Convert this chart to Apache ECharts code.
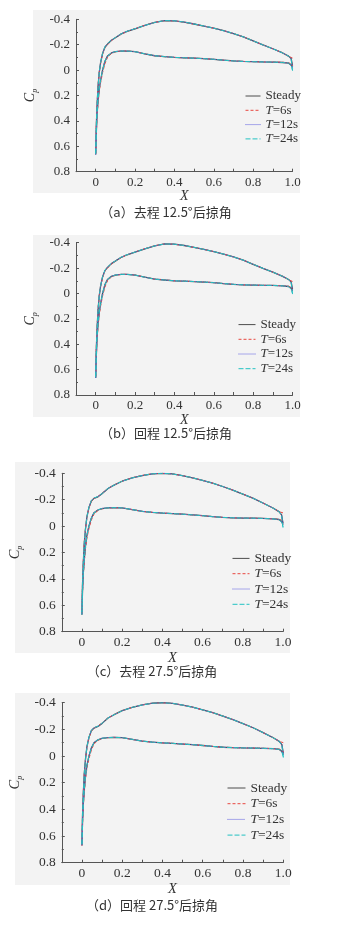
<!DOCTYPE html>
<html>
<head>
<meta charset="utf-8">
<script src="https://cdn.jsdelivr.net/npm/echarts@6/dist/echarts.min.js"></script>
<style>html,body{margin:0;padding:0;background:#fff}#c{width:346px;height:930px}</style>
</head>
<body>
<div id="c"></div>
<script>
// ---- data ----
const xStations = [0, 0.003, 0.007, 0.012, 0.018, 0.025, 0.035, 0.047, 0.06, 0.08, 0.1, 0.13, 0.16, 0.2, 0.25, 0.3, 0.35, 0.4, 0.45, 0.5, 0.55, 0.6, 0.65, 0.7, 0.75, 0.8, 0.85, 0.9, 0.95, 0.98, 0.993, 1.0];

// 12.5 deg sweep
const up125Steady = [0.665, 0.45, 0.28, 0.13, 0.02, -0.06, -0.13, -0.18, -0.205, -0.235, -0.255, -0.285, -0.305, -0.325, -0.352, -0.375, -0.39, -0.388, -0.378, -0.363, -0.347, -0.33, -0.31, -0.288, -0.262, -0.23, -0.198, -0.168, -0.135, -0.11, -0.092, -0.035];
const lo125Steady = [0.665, 0.5, 0.35, 0.24, 0.15, 0.08, 0.0, -0.07, -0.11, -0.135, -0.145, -0.15, -0.15, -0.145, -0.128, -0.113, -0.106, -0.1, -0.097, -0.094, -0.09, -0.085, -0.078, -0.072, -0.068, -0.066, -0.064, -0.063, -0.06, -0.055, -0.04, -0.02];
const up125T6 = [0.665, 0.44, 0.27, 0.12, 0.02, -0.055, -0.125, -0.178, -0.2, -0.232, -0.255, -0.283, -0.305, -0.327, -0.353, -0.376, -0.39, -0.387, -0.377, -0.362, -0.347, -0.33, -0.31, -0.288, -0.262, -0.23, -0.198, -0.168, -0.136, -0.108, -0.085, -0.095];
const lo125T6 = [0.665, 0.51, 0.37, 0.26, 0.17, 0.1, 0.02, -0.05, -0.1, -0.13, -0.143, -0.15, -0.151, -0.146, -0.128, -0.113, -0.106, -0.1, -0.097, -0.094, -0.09, -0.085, -0.078, -0.072, -0.068, -0.066, -0.064, -0.063, -0.062, -0.057, -0.05, -0.03];
const up125T12 = [0.665, 0.45, 0.28, 0.13, 0.02, -0.06, -0.13, -0.182, -0.207, -0.236, -0.256, -0.286, -0.306, -0.326, -0.352, -0.375, -0.39, -0.388, -0.378, -0.363, -0.347, -0.33, -0.31, -0.288, -0.262, -0.23, -0.198, -0.168, -0.135, -0.11, -0.09, -0.025];
const lo125T12 = [0.665, 0.5, 0.35, 0.24, 0.15, 0.08, 0.0, -0.07, -0.112, -0.136, -0.146, -0.151, -0.15, -0.145, -0.128, -0.113, -0.106, -0.1, -0.097, -0.094, -0.09, -0.085, -0.078, -0.072, -0.068, -0.066, -0.064, -0.063, -0.06, -0.055, -0.038, -0.015];
const up125T24 = [0.665, 0.45, 0.28, 0.13, 0.02, -0.06, -0.132, -0.183, -0.208, -0.236, -0.256, -0.286, -0.306, -0.326, -0.352, -0.375, -0.39, -0.388, -0.378, -0.363, -0.347, -0.33, -0.31, -0.288, -0.262, -0.23, -0.198, -0.168, -0.135, -0.11, -0.088, 0.005];
const lo125T24 = [0.665, 0.5, 0.35, 0.24, 0.15, 0.08, 0.0, -0.07, -0.11, -0.135, -0.145, -0.15, -0.15, -0.145, -0.128, -0.113, -0.106, -0.1, -0.097, -0.094, -0.09, -0.085, -0.078, -0.072, -0.068, -0.066, -0.064, -0.063, -0.06, -0.055, -0.035, 0.0];

// 27.5 deg sweep
const up275Steady = [0.67, 0.45, 0.28, 0.13, 0.02, -0.07, -0.14, -0.19, -0.21, -0.222, -0.245, -0.285, -0.31, -0.34, -0.365, -0.383, -0.396, -0.4, -0.395, -0.382, -0.366, -0.346, -0.325, -0.3, -0.273, -0.243, -0.212, -0.175, -0.137, -0.11, -0.085, -0.02];
const lo275Steady = [0.67, 0.5, 0.36, 0.25, 0.15, 0.07, 0.0, -0.06, -0.1, -0.122, -0.133, -0.138, -0.14, -0.138, -0.125, -0.112, -0.104, -0.099, -0.095, -0.09, -0.085, -0.079, -0.072, -0.066, -0.063, -0.061, -0.06, -0.058, -0.055, -0.05, -0.035, -0.01];
const up275T6 = [0.67, 0.44, 0.27, 0.12, 0.02, -0.065, -0.135, -0.188, -0.21, -0.224, -0.248, -0.287, -0.311, -0.34, -0.366, -0.384, -0.396, -0.4, -0.395, -0.382, -0.366, -0.346, -0.325, -0.3, -0.273, -0.243, -0.212, -0.175, -0.138, -0.11, -0.09, -0.1];
const lo275T6 = [0.67, 0.51, 0.37, 0.27, 0.17, 0.09, 0.02, -0.045, -0.09, -0.118, -0.131, -0.138, -0.14, -0.138, -0.125, -0.112, -0.104, -0.099, -0.095, -0.09, -0.085, -0.079, -0.072, -0.066, -0.063, -0.061, -0.06, -0.058, -0.056, -0.052, -0.045, -0.03];
const up275T12 = [0.67, 0.45, 0.28, 0.13, 0.02, -0.07, -0.142, -0.192, -0.212, -0.223, -0.246, -0.286, -0.31, -0.34, -0.365, -0.383, -0.396, -0.4, -0.395, -0.382, -0.366, -0.346, -0.325, -0.3, -0.273, -0.243, -0.212, -0.175, -0.137, -0.11, -0.085, -0.02];
const lo275T12 = [0.67, 0.5, 0.36, 0.25, 0.15, 0.07, 0.0, -0.062, -0.102, -0.123, -0.134, -0.139, -0.14, -0.138, -0.125, -0.112, -0.104, -0.099, -0.095, -0.09, -0.085, -0.079, -0.072, -0.066, -0.063, -0.061, -0.06, -0.058, -0.055, -0.05, -0.035, -0.01];
const up275T24 = [0.67, 0.45, 0.28, 0.13, 0.02, -0.07, -0.143, -0.193, -0.213, -0.224, -0.246, -0.286, -0.31, -0.34, -0.365, -0.383, -0.396, -0.4, -0.395, -0.382, -0.366, -0.346, -0.325, -0.3, -0.273, -0.243, -0.212, -0.175, -0.137, -0.11, -0.082, 0.012];
const lo275T24 = [0.67, 0.5, 0.36, 0.25, 0.15, 0.07, 0.0, -0.06, -0.1, -0.122, -0.133, -0.138, -0.14, -0.138, -0.125, -0.112, -0.104, -0.099, -0.095, -0.09, -0.085, -0.079, -0.072, -0.066, -0.063, -0.061, -0.06, -0.058, -0.055, -0.05, -0.03, 0.005];

const seriesNames = ['Steady', 'T=6s', 'T=12s', 'T=24s'];
const yTicks = [-0.4, -0.2, 0, 0.2, 0.4, 0.6, 0.8];
const xTicks = [0, 0.2, 0.4, 0.6, 0.8, 1.0];
const captions = ['（a）去程 12.5°后掠角', '（b）回程 12.5°后掠角', '（c）去程 27.5°后掠角', '（d）回程 27.5°后掠角'];

const set125 = [[up125Steady, lo125Steady], [up125T6, lo125T6], [up125T12, lo125T12], [up125T24, lo125T24]];
const set275 = [[up275Steady, lo275Steady], [up275T6, lo275T6], [up275T12, lo275T12], [up275T24, lo275T24]];
const panelSets = [set125, set125, set275, set275];

// ---- layout / style ----
const panels = [
  {grid: {left: 76, top: 19.3, width: 216.5, height: 152.4}, bg: [33, 10, 267, 183], legend: {left: 245, top: 89, w: 15, gap: 0.3}, cap: [166, 212], fs: 13, nameGapY: 28},
  {grid: {left: 76, top: 242.7, width: 216.5, height: 152.3}, bg: [33, 235, 267, 182], legend: {left: 238, top: 317.6, w: 17, gap: 0.7}, cap: [166, 433], fs: 13, nameGapY: 28},
  {grid: {left: 57.5, top: 473.3, width: 225.5, height: 158.4}, bg: [15, 462, 275, 191], legend: {left: 232, top: 551.4, w: 17, gap: 1.3}, cap: [152, 671], fs: 13.5, nameGapY: 30},
  {grid: {left: 58, top: 702.7, width: 225.3, height: 160}, bg: [15, 693, 275, 192], legend: {left: 227, top: 781, w: 18, gap: 1.7}, cap: [152, 905], fs: 13.5, nameGapY: 30}
];
const lineStyles = [
  {color: '#4d4d4d', width: 1.3, type: 'solid'},
  {color: '#e8473f', width: 1, type: [3, 2]},
  {color: '#5a5ae0', width: 1, type: [1, 1]},
  {color: '#22c2c2', width: 1, type: [5, 2]}
];
const serif = 'Liberation Serif';
const fmt = v => { const k = Math.round(v * 10); return k === 0 ? '0' : (k / 10).toFixed(1); };

const chart = echarts.init(document.getElementById('c'), null, {renderer: 'canvas'});
const grids = [], xAxes = [], yAxes = [], series = [], legends = [], graphics = [];

panels.forEach((p, i) => {
  grids.push(Object.assign({containLabel: false}, p.grid));
  graphics.push({type: 'rect', z: -10, shape: {x: p.bg[0], y: p.bg[1], width: p.bg[2], height: p.bg[3]}, style: {fill: '#f3f3f3'}});
  graphics.push({type: 'text', x: p.cap[0], y: p.cap[1], style: {text: captions[i], font: '13px "Noto Sans CJK SC"', fill: '#333', align: 'center', verticalAlign: 'middle'}});
  xAxes.push({
    type: 'value', gridIndex: i, min: -0.1, max: 1.0, interval: 0.1,
    name: 'X', nameLocation: 'middle', nameGap: 8,
    nameTextStyle: {fontFamily: serif, fontStyle: 'italic', fontSize: p.fs + 1, color: '#333'},
    axisLine: {show: true, onZero: false, lineStyle: {color: '#555', width: 1}},
    axisTick: {show: true, inside: true, length: 3, lineStyle: {color: '#555'}},
    splitLine: {show: false},
    axisLabel: {fontFamily: serif, fontSize: p.fs, color: '#333', margin: 4,
      formatter: v => { const k = Math.round(v * 10); if (k < 0 || k % 2) return ''; return xTicks.indexOf(k / 10) >= 0 ? fmt(v) : ''; }}
  });
  yAxes.push({
    type: 'value', gridIndex: i, min: yTicks[0], max: yTicks[yTicks.length - 1], interval: 0.2, inverse: true,
    name: '{c|C}{p|p}', nameLocation: 'middle', nameGap: p.nameGapY, nameRotate: 90,
    nameTextStyle: {rich: {
      c: {fontFamily: serif, fontStyle: 'italic', fontSize: p.fs + 1, color: '#333', verticalAlign: 'middle', lineHeight: 16},
      p: {fontFamily: serif, fontStyle: 'italic', fontSize: 8, color: '#333', verticalAlign: 'bottom', lineHeight: 16}
    }},
    axisLine: {show: true, onZero: false, lineStyle: {color: '#555', width: 1}},
    axisTick: {show: true, inside: true, length: 3, lineStyle: {color: '#555'}},
    minorTick: {show: true, splitNumber: 2, length: 2, lineStyle: {color: '#555'}},
    splitLine: {show: false},
    axisLabel: {fontFamily: serif, fontSize: p.fs, color: '#333', margin: 6, formatter: fmt}
  });
  panelSets[i].forEach((pair, s) => {
    const data = [];
    for (let k = xStations.length - 1; k >= 0; k--) data.push([xStations[k], pair[0][k]]);
    for (let k = 1; k < xStations.length; k++) data.push([xStations[k], pair[1][k]]);
    series.push({
      type: 'line', name: seriesNames[s], xAxisIndex: i, yAxisIndex: i,
      data: data, symbol: 'none', showSymbol: false, smooth: false, silent: true, animation: false,
      lineStyle: lineStyles[s], itemStyle: {color: lineStyles[s].color}, z: 2 + s
    });
  });
  legends.push({
    data: seriesNames, orient: 'vertical', left: p.legend.left, top: p.legend.top,
    itemWidth: p.legend.w, itemHeight: 10, itemGap: p.legend.gap, padding: 0,
    selectedMode: false,
    itemStyle: {opacity: 0},
    lineStyle: {width: 1},
    formatter: n => n === 'Steady' ? n : '{i|T}' + n.slice(1),
    textStyle: {fontFamily: serif, fontSize: p.fs, color: '#333', lineHeight: 14,
      rich: {i: {fontFamily: serif, fontStyle: 'italic', fontSize: p.fs, color: '#333', lineHeight: 14}}}
  });
});

chart.setOption({
  animation: false,
  backgroundColor: '#fff',
  grid: grids, xAxis: xAxes, yAxis: yAxes, series: series, legend: legends, graphic: graphics
});
</script>
</body>
</html>
